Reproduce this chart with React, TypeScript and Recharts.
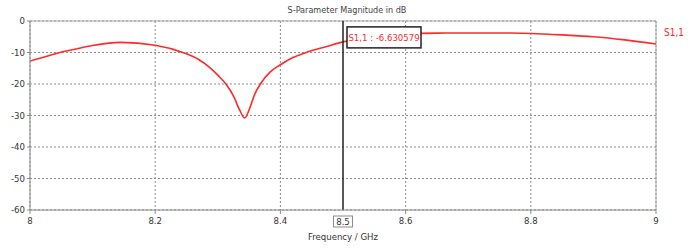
import React from 'react';
import { ComposedChart, Line, XAxis, YAxis, CartesianGrid, ReferenceLine, ReferenceDot } from 'recharts';

// S1,1 magnitude
const freqGHz = [8.0, 8.02, 8.048, 8.075, 8.1, 8.145, 8.2, 8.244, 8.27, 8.285, 8.3, 8.313, 8.325, 8.335, 8.343, 8.351, 8.359, 8.368, 8.383, 8.4, 8.42, 8.441, 8.474, 8.5, 8.55, 8.6, 8.65, 8.7, 8.75, 8.8, 8.85, 8.9, 8.95, 9.0];
const s11dB = [-12.7, -11.6, -10.0, -8.8, -7.8, -6.8, -7.7, -10.0, -12.3, -14.4, -17.2, -20.0, -23.8, -28.3, -30.8, -27.7, -23.2, -20.0, -16.3, -13.9, -11.6, -10.0, -8.1, -6.63, -5.0, -4.1, -3.85, -3.8, -3.8, -3.95, -4.4, -5.0, -6.0, -7.3];

const xTicks = [8, 8.2, 8.4, 8.6, 8.8, 9];
const yTicks = [0, -10, -20, -30, -40, -50, -60];

const markerFreq = 8.5;
const markerValue = -6.630579;
const seriesName = 'S1,1';

const data = freqGHz.map((f, i) => ({ f, v: s11dB[i] }));

const FONT = "'DejaVu Sans Condensed', 'Liberation Sans Narrow', sans-serif";
const RED = '#ff2a2a';
const GREY = '#8c8c8c';

const MarkerBox = (props: any) => {
  const { cx, cy } = props;
  return (
    <g>
      <rect x={cx + 4} y={cy - 15} width={74} height={21} fill="#fff" stroke="#222" strokeWidth={1.5} />
      <text x={cx + 41} y={cy - 1} textAnchor="middle" fill={RED} fontSize={9.5} fontFamily={FONT}>
        {`${seriesName} : ${markerValue}`}
      </text>
    </g>
  );
};

const FreqLabel = (props: any) => {
  const { x, y, height } = props.viewBox;
  const by = y + height + 6;
  return (
    <g>
      <rect x={x - 9.5} y={by} width={19} height={11} fill="#fff" stroke={GREY} strokeWidth={1} />
      <text x={x} y={by + 8.5} textAnchor="middle" fill="#333" fontSize={9.5} fontFamily={FONT}>
        {String(markerFreq)}
      </text>
    </g>
  );
};

export default function App() {
  return (
    <div style={{ position: 'absolute', left: 0, top: 0, width: 694, height: 248, background: '#fff', fontFamily: FONT }}>
      <div style={{ position: 'absolute', left: 0, top: 4, width: 694, textAlign: 'center', fontSize: 9, color: '#444', lineHeight: '12px' }}>
        S-Parameter Magnitude in dB
      </div>
      <ComposedChart width={694} height={248} data={data} margin={{ top: 21, right: 38, bottom: 0, left: 0 }}>
        <CartesianGrid stroke={GREY} strokeDasharray="2 2" />
        <XAxis
          dataKey="f"
          type="number"
          domain={[8, 9]}
          ticks={xTicks}
          allowDataOverflow
          stroke={GREY}
          tickSize={4}
          tickMargin={3}
          tick={{ fill: '#333', fontSize: 9.5, fontFamily: FONT }}
          height={38}
          label={{ value: 'Frequency / GHz', position: 'insideBottom', offset: 8, fill: '#333', fontSize: 9.5, fontFamily: FONT }}
        />
        <YAxis
          type="number"
          domain={[-60, 0]}
          ticks={yTicks}
          allowDataOverflow
          stroke={GREY}
          width={30}
          tickSize={3}
          tickMargin={2}
          tick={{ fill: '#333', fontSize: 9.5, fontFamily: FONT }}
        />
        <ReferenceLine y={0} stroke="#a8a8a8" />
        <ReferenceLine x={9} stroke="#a8a8a8" />
        <Line
          type="monotone"
          dataKey="v"
          stroke={RED}
          strokeWidth={1.6}
          dot={false}
          isAnimationActive={false}
        />
        <ReferenceLine x={markerFreq} stroke="#222" strokeWidth={1.5} label={FreqLabel} />
        <ReferenceDot x={markerFreq} y={markerValue} r={0} shape={MarkerBox} />
      </ComposedChart>
      <div style={{ position: 'absolute', left: 664, top: 27, fontSize: 10, color: RED }}>{seriesName}</div>
    </div>
  );
}
